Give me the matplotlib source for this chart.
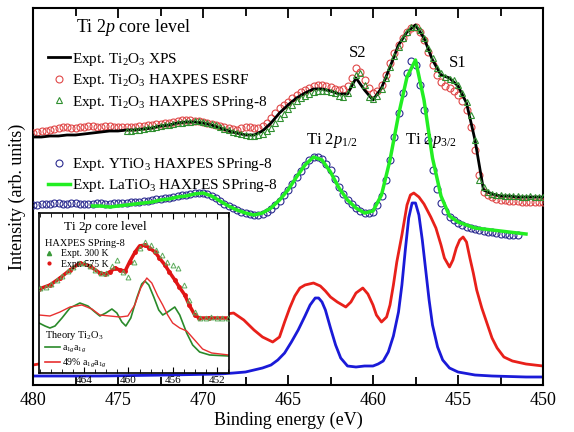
import numpy as np
import matplotlib
matplotlib.use("Agg")
from matplotlib import pyplot as plt
from matplotlib.lines import Line2D

plt.rcParams['font.family'] = ['Liberation Serif', 'DejaVu Serif']
plt.rcParams['mathtext.fontset'] = 'custom'
plt.rcParams['mathtext.rm'] = 'Liberation Serif'
plt.rcParams['mathtext.it'] = 'Liberation Serif:italic'

# ---- main panel data (intensity in arb. units) ----
e_grid = np.arange(480.0, 449.99, -0.5)          # 61 points
xps_ti2o3 = [248, 248, 249, 249, 250, 250, 251, 252, 253, 254,
             254, 255, 255, 256, 257, 259, 260, 262, 263, 263,
             262, 260, 257, 254, 252, 250, 250, 254, 262, 272,
             280, 287, 292, 296, 296, 294, 291, 291, 307, 295,
             285, 297, 318, 340, 353, 360, 347, 325, 310, 307,
             299, 282, 245, 195, 191, 189, 189, 188, 188, 188, 188]

e_esrf = np.arange(480.0, 449.99, -0.25)         # 121 points
esrf_ti2o3 = [252, 253, 254, 254,  255, 256, 257, 258,  258, 257, 257, 258,
              258, 259, 259, 258,  258, 259, 259, 258,  258, 258, 258, 258,
              258, 259, 259, 260,  260, 261, 261, 262,  262, 263, 264, 265,
              265, 265, 264, 264,  263, 262, 261, 260,  259, 258, 257, 256,
              255, 257, 258, 258,  257, 257, 259, 262,  267, 272, 277, 280,
              283, 287, 290, 293,  295, 297, 299, 300,  300, 299, 298, 296,
              295, 296, 299, 307,  317, 313, 305, 297,  292, 294, 300, 310,
              322, 332, 340, 347,  353, 357, 358, 353,  345, 333, 320, 310,
              303, 299, 297, 294,  290, 284, 275, 258,  235, 210, 193, 190,
              188, 186, 185, 185,  184, 184, 184, 183,  183, 183, 183, 183,
              183]

e_spring = np.arange(474.5, 449.99, -0.25)       # 99 points
spring_ti2o3 = [254, 254,
                255, 255, 256, 257,  257, 258, 259, 260,  260, 261, 262, 262,
                263, 263, 264, 264,  263, 262, 261, 260,  258, 256, 255, 253,
                252, 251, 250, 249,  249, 250, 251, 254,  257, 262, 267, 271,
                276, 280, 284, 287,  289, 291, 293, 294,  294, 294, 293, 292,
                289, 288, 292, 301,  310, 312, 300, 288,  286, 289, 296, 307,
                318, 329, 338, 347,  353, 358, 358, 355,  347, 337, 327, 317,
                312, 308, 306, 305,  300, 292, 283, 270,  245, 205, 198, 193,
                191, 190, 190, 189,  189, 189, 189, 188,  188, 189, 188, 188,
                188]

e_ytio3 = np.arange(480.0, 451.49, -0.25)        # 115 points
ytio3 = [180, 180, 181, 181,  181, 182, 182, 181,  181, 182, 182, 181,
         181, 181, 181, 182,  182, 181, 181, 182,  182, 182, 182, 183,
         183, 183, 184, 184,  185, 186, 186, 187,  187, 188, 189, 190,
         190, 191, 192, 192,  192, 191, 189, 187,  184, 181, 179, 177,
         175, 173, 172, 171,  170, 170, 171, 173,  176, 180, 184, 190,
         195, 201, 208, 214,  220, 225, 228, 228,  226, 221, 215, 206,
         198, 191, 185, 181,  177, 174, 172, 172,  173, 180, 189, 205,
         225, 248, 272, 292,  312, 324, 320, 300,  275, 245, 215, 196,
         182, 174, 168, 165,  162, 160, 158, 157,  156, 155, 154, 153,
         153, 152, 151, 151,  150, 150, 150]

e_latio3 = np.arange(476.5, 450.99, -0.5)        # 52 points
latio3 = [179, 179, 178, 179, 180, 181, 182, 183, 185, 186,
          188, 189, 191, 192, 189, 184, 179, 175, 172, 170,
          172, 177, 185, 195, 208, 220, 228, 225, 213, 197,
          185, 177, 172, 174, 190, 225, 270, 308, 325, 285,
          227, 189, 169, 163, 160, 157, 156, 155, 154, 153,
          152, 151]

# theory curves (main panel)
e_th_red = [480, 479, 478, 477, 476, 475, 474, 473, 472, 471, 470, 469, 468.2, 467.6,
            467, 466.5, 465.9, 465.5, 465.2, 464.9, 464.6, 464.3, 464, 463.5, 463.1,
            462.8, 462.5, 462.1, 461.6, 461.3, 461, 460.6, 460.3, 460, 459.8, 459.5,
            459.2, 459, 458.8, 458.6, 458.3, 458, 457.8, 457.6, 457.3, 457, 456.6,
            456.3, 456, 455.8, 455.5, 455.3, 455.1, 454.9, 454.7, 454.5, 454.3, 454.1,
            453.9, 453.6, 453.3, 453, 452.7, 452.3, 451.8, 451, 450]
th_red_px = [365, 362, 356, 350, 345, 340, 335, 330, 325, 321, 318, 315, 313, 320,
             330, 337, 342, 337, 322, 308, 296, 288, 285, 283, 286,
             291, 297, 302, 307, 302, 293, 288, 294, 305, 315, 322,
             317, 305, 285, 262, 235, 205, 195, 193, 197, 204, 217,
             228, 245, 258, 267, 260, 248, 240, 237, 242, 258, 273,
             290, 308, 323, 338, 348, 357, 361, 364, 366]
e_th_blue = [480, 476, 472, 469, 468.2, 467.5, 467, 466.5, 466, 465.6, 465.2, 464.8,
             464.4, 464, 463.7, 463.4, 463.2, 463, 462.8, 462.5, 462.2, 461.9, 461.5,
             461, 460.5, 460, 459.7, 459.4, 459.1, 458.8, 458.5, 458.3, 458.1, 457.9,
             457.7, 457.5, 457.3, 457.1, 456.9, 456.7, 456.5, 456.2, 455.9, 455.5,
             455, 454, 453, 451, 450]
th_blue_px = [376, 376, 375, 374, 373, 372, 370, 368, 365, 360, 353, 342,
              330, 316, 305, 298, 298, 302, 310, 328, 345, 358, 366,
              367, 366, 366, 364, 361, 352, 336, 312, 285, 250, 218,
              203, 203, 215, 240, 270, 300, 325, 347, 360, 368,
              372, 375, 376, 377, 377]
th_red = [385 - v for v in th_red_px]
th_blue = [385 - v for v in th_blue_px]

# ---- inset data ----
e_in_575 = [468.1, 467.1, 466.2, 465.3, 464.4, 463.5, 462.6, 462.1, 461.7, 461.2, 460.8,
            460.3, 459.9, 459.4, 459.0, 458.5, 458.1, 457.6, 457.2, 456.7, 456.3, 455.8,
            455.4, 454.9, 454.5, 454.0, 453.6, 452.7, 450.9]
in_575_px = [289, 285, 278, 270, 263, 266, 273, 274, 272, 268, 270,
             271, 262, 252, 246, 245, 248, 252, 258, 265, 272, 280,
             287, 295, 305, 315, 318, 318, 318]
e_in_300 = np.arange(468.0, 450.99, -0.5)        # 35 points
in_300_px = [288, 287, 284, 280, 276, 271, 267, 263, 263, 266,
             270, 273, 273, 266, 260, 272, 277, 262, 248, 242,
             245, 250, 255, 262, 265, 268, 285, 300, 312, 318,
             318, 317, 318, 318, 318]
e_in_a1g = [468.1, 467.56, 467.11, 466.65, 466.02, 465.3, 464.4, 463.67, 463.04, 462.59,
            462.05, 461.5, 461.05, 460.6, 460.24, 459.79, 459.25, 458.8, 458.52, 458.16,
            457.71, 457.26, 456.9, 456.45, 455.81, 455.36, 454.73, 454.19, 453.56, 452.65,
            450.9]
in_a1g_px = [323, 326, 328, 326, 318, 308, 303, 306, 312, 316,
             313, 309, 313, 322, 326, 318, 298, 284, 281, 285,
             297, 310, 315, 312, 307, 315, 333, 345, 352, 355, 356]
e_in_49 = [468.1, 467.11, 466.2, 465.3, 464.22, 463.31, 462.59, 461.69, 460.78, 460.06,
           459.43, 458.89, 458.34, 457.89, 457.35, 456.9, 456.45, 456.0, 455.36, 454.73,
           454.01, 453.29, 452.47, 450.9]
in_49_px = [315, 316, 312, 307, 305, 309, 315, 316, 317, 316,
            305, 288, 278, 283, 296, 305, 315, 323, 328, 331,
            340, 349, 353, 355]
in_575 = [373 - v for v in in_575_px]
in_300 = [373 - v for v in in_300_px]
in_a1g = [373 - v for v in in_a1g_px]
in_49 = [373 - v for v in in_49_px]

# ---- figure ----
fig = plt.figure(figsize=(5.74, 4.32), dpi=100)
ax = fig.add_axes([33 / 574, 47 / 432, 510 / 574, 377 / 432])

c_red, c_green, c_navy, c_lime = '#e04848', '#2f8f2f', '#2c2c90', '#22ee22'

ax.plot(e_th_red, th_red, color='#e8201a', lw=2, zorder=2)
ax.plot(e_th_blue, th_blue, color='#1a1ad8', lw=2, zorder=2)
ax.plot(e_esrf, esrf_ti2o3, 'o', ms=5, mfc='none', mec=c_red, mew=0.8, zorder=3)
ax.plot(e_grid, xps_ti2o3, color='black', lw=2, zorder=4)
ax.plot(e_spring, spring_ti2o3, '^', ms=5, mfc='none', mec=c_green, mew=0.8, zorder=5)
ax.plot(e_ytio3, ytio3, 'o', ms=5, mfc='none', mec=c_navy, mew=0.8, zorder=3)
ax.plot(e_latio3, latio3, color=c_lime, lw=2.5, zorder=4)

ax.set_xlim(480, 450)
ax.set_ylim(0, 377)
ax.set_xticks([480, 475, 470, 465, 460, 455, 450])
ax.set_xticks(np.arange(477.5, 450, -5), minor=True)
ax.tick_params(axis='x', which='both', direction='in', top=True, labelsize=13, pad=5)
ax.tick_params(axis='x', which='major', length=7, width=1.3)
ax.tick_params(axis='x', which='minor', length=6, width=1.3)
ax.set_yticks([])
for s in ax.spines.values():
    s.set_linewidth(1.5)
ax.set_xlabel('Binding energy (eV)', fontsize=13, labelpad=2)
ax.set_ylabel('Intensity (arb. units)', fontsize=13, labelpad=5)

ax.text(477.5, 357, r'Ti 2$p$ core level', fontsize=13, va='center', ha='left')
ax.text(460.9, 332, 'S2', fontsize=12, ha='center', va='center')
ax.text(455.0, 322, 'S1', fontsize=12, ha='center', va='center')
ax.text(462.4, 245, r'Ti 2$p_{\rm 1/2}$', fontsize=12, ha='center', va='center')
ax.text(456.6, 245, r'Ti 2$p_{3/2}$', fontsize=12, ha='center', va='center')

h1 = [Line2D([], [], color='black', lw=2),
      Line2D([], [], ls='none', marker='o', ms=5, mfc='none', mec=c_red, mew=0.8),
      Line2D([], [], ls='none', marker='^', ms=5, mfc='none', mec=c_green, mew=0.8)]
l1 = [r'Expt. Ti$_2$O$_3$ XPS', r'Expt. Ti$_2$O$_3$ HAXPES ESRF',
      r'Expt. Ti$_2$O$_3$ HAXPES SPring-8']
leg1 = ax.legend(h1, l1, loc='upper left', bbox_to_anchor=(0.03, 0.887), frameon=False,
                 fontsize=11, handlelength=1.4, handletextpad=0.15, labelspacing=0.3,
                 borderpad=0, borderaxespad=0)
ax.add_artist(leg1)
h2 = [Line2D([], [], ls='none', marker='o', ms=5, mfc='none', mec=c_navy, mew=0.8),
      Line2D([], [], color=c_lime, lw=2.5)]
l2 = [r'Expt. YTiO$_3$ HAXPES SPring-8', r'Expt. LaTiO$_3$ HAXPES SPring-8']
ax.legend(h2, l2, loc='upper left', bbox_to_anchor=(0.03, 0.607), frameon=False,
          fontsize=11, handlelength=1.4, handletextpad=0.15, labelspacing=0.25,
          borderpad=0, borderaxespad=0)

# ---- inset ----
axi = fig.add_axes([39 / 574, 59 / 432, 190 / 574, 160 / 432])
axi.set_facecolor('white')
axi.plot(e_in_300, in_300, '^', ms=3.5, mfc='none', mec='#5aaa5a', mew=0.7, zorder=3)
axi.plot(e_in_575, in_575, color='#e01515', lw=2.5, marker='o', ms=2.5, zorder=2)
axi.plot(e_in_a1g, in_a1g, color='#2a8a2a', lw=1.2)
axi.plot(e_in_49, in_49, color='#e83030', lw=1.0)
axi.set_xlim(468.1, 450.9)
axi.set_ylim(0, 160)
axi.set_xticks([464, 460, 456, 452])
axi.set_xticks(np.arange(468, 450.5, -1), minor=True)
axi.tick_params(axis='x', which='both', direction='in', top=True, labelsize=8, pad=2)
axi.tick_params(axis='x', which='major', length=4)
axi.tick_params(axis='x', which='minor', length=3)
axi.set_yticks([])
for s in axi.spines.values():
    s.set_linewidth(1.2)
axi.text(0.125, 0.91, r'Ti 2$p$ core level', transform=axi.transAxes, fontsize=9.5,
         ha='left', va='center')
hi1 = [Line2D([], [], ls='none', marker='^', ms=3, color='#3a9a3a'),
       Line2D([], [], ls='none', marker='o', ms=2, color='#e01515')]
li = axi.legend(hi1, ['Expt. 300 K', 'Expt. 575 K'], title='HAXPES SPring-8',
                loc='upper left', bbox_to_anchor=(0.03, 0.84), frameon=False, fontsize=7,
                title_fontsize=7.5, alignment='left', handlelength=0.8,
                handletextpad=0.9, labelspacing=0.15, borderpad=0, borderaxespad=0)
axi.add_artist(li)
hi2 = [Line2D([], [], color='#2a8a2a', lw=1.2), Line2D([], [], color='#e83030', lw=1.2)]
axi.legend(hi2, [r'a$_{1g}$a$_{1g}$', r'49% a$_{1g}$a$_{1g}$'], title=r'Theory Ti$_2$O$_3$',
           loc='upper left', bbox_to_anchor=(0.03, 0.275), frameon=False, fontsize=7,
           title_fontsize=7.5, alignment='left', handlelength=1.6,
           handletextpad=0.2, labelspacing=0.15, borderpad=0, borderaxespad=0)

fig.savefig('out.png', dpi=100)
